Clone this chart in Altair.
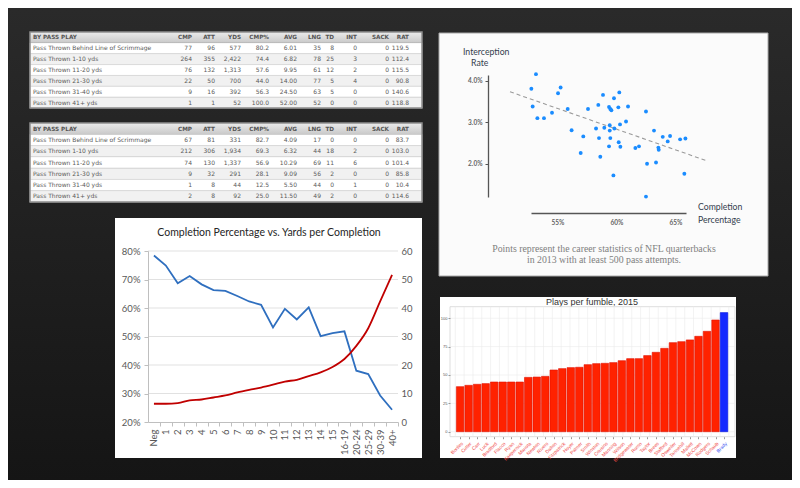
import altair as alt
import pandas as pd

W, H = 784, 472

# ---------------- tables ----------------
table_header = ["BY PASS PLAY", "CMP", "ATT", "YDS", "CMP%", "AVG", "LNG", "TD", "INT", "SACK", "RAT"]
pass_depths = ["Pass Thrown Behind Line of Scrimmage", "Pass Thrown 1-10 yds", "Pass Thrown 11-20 yds",
               "Pass Thrown 21-30 yds", "Pass Thrown 31-40 yds", "Pass Thrown 41+ yds"]

t1_cmp = [77, 264, 76, 22, 9, 1]
t1_att = [96, 355, 132, 50, 16, 1]
t1_yds = [577, 2422, 1313, 700, 392, 52]
t1_pct = [80.2, 74.4, 57.6, 44.0, 56.3, 100.0]
t1_avg = [6.01, 6.82, 9.95, 14.00, 24.50, 52.00]
t1_lng = [35, 78, 61, 77, 63, 52]
t1_td = [8, 25, 12, 5, 5, 0]
t1_int = [0, 3, 2, 4, 0, 0]
t1_sack = [0, 0, 0, 0, 0, 0]
t1_rat = [119.5, 112.4, 115.5, 90.8, 140.6, 118.8]

t2_cmp = [67, 212, 74, 9, 1, 2]
t2_att = [81, 306, 130, 32, 8, 8]
t2_yds = [331, 1934, 1337, 291, 44, 92]
t2_pct = [82.7, 69.3, 56.9, 28.1, 12.5, 25.0]
t2_avg = [4.09, 6.32, 10.29, 9.09, 5.50, 11.50]
t2_lng = [17, 44, 69, 56, 44, 49]
t2_td = [0, 18, 11, 2, 0, 2]
t2_int = [0, 2, 6, 0, 1, 0]
t2_sack = [0, 0, 0, 0, 0, 0]
t2_rat = [83.7, 103.0, 101.4, 85.8, 10.4, 114.6]

# ---------------- line chart ----------------
yard_bins = ["Neg", "1", "2", "3", "4", "5", "6", "7", "8", "9", "10", "11", "12", "13", "14", "15",
             "16-19", "20-24", "25-29", "30-39", "40+"]
completion_pct = [78.4, 74.9, 68.7, 71.2, 68.3, 66.3, 66.0, 64.2, 62.3, 61.1, 53.2, 59.7, 56.0, 60.2,
                  50.1, 51.2, 51.8, 38.0, 36.8, 29.3, 24.3]
yards_per_comp = [6.4, 6.4, 6.6, 7.6, 7.9, 8.6, 9.3, 10.4, 11.3, 12.1, 13.1, 14.2, 14.8, 16.1, 17.4,
                  19.3, 22.1, 26.7, 32.9, 42.3, 51.6]

# ---------------- scatter ----------------
qb_comp_pct = [53.19, 52.80, 55.28, 55.06, 52.91, 53.31, 53.87, 54.55, 55.88, 56.21, 57.20, 56.98, 57.60,
               58.87, 58.47, 58.28, 58.53, 58.64, 58.98, 59.38, 59.49, 59.58, 59.80, 59.44, 59.44, 59.49,
               59.38, 59.83, 59.75, 60.25, 60.17, 60.31, 60.20, 60.34, 60.99, 60.82, 61.61, 61.92, 62.51,
               62.60, 62.51, 63.19, 63.36, 63.56, 63.59, 63.93, 64.35, 64.55, 65.40, 65.85, 65.76]
qb_int_rate = [4.16, 3.81, 3.84, 3.70, 3.38, 3.10, 3.10, 3.23, 3.32, 2.81, 2.66, 2.26, 3.32,
               3.66, 3.42, 2.85, 2.62, 2.17, 2.87, 3.37, 3.32, 3.29, 3.58, 2.93, 2.80, 2.62,
               2.42, 2.85, 1.72, 3.72, 3.36, 2.95, 2.52, 2.41, 3.38, 3.02, 2.38, 2.42, 3.26,
               2.00, 1.21, 2.80, 2.03, 2.39, 2.34, 2.65, 2.54, 2.67, 2.59, 2.61, 1.76]
trend_comp = [50.99, 67.66]
trend_int = [3.736, 2.072]
scatter_caption = ["Points represent the career statistics of NFL quarterbacks",
                   "in 2013 with at least 500 pass attempts."]

# ---------------- bar chart ----------------
qb_names = ["Bortles", "Cutler", "Carr", "Luck", "Bradford", "Flacco", "Ryan", "Kaepernick", "Mariota",
            "Newton", "Rivers", "Dalton", "Fitzpatrick", "Hoyer", "Palmer", "Smith", "Winston", "Cousins",
            "Manning", "Wilson", "Bridgewater", "Romo", "Taylor", "Brees", "Stafford", "Osweiler",
            "Tannehill", "Mallett", "McCown", "Rodgers", "Schaub", "Brady"]
plays_per_fumble = [39.7, 40.9, 41.8, 42.4, 43.8, 43.8, 43.8, 43.8, 47.9, 48.2, 48.8, 54.4, 55.6, 56.5,
                    56.8, 59.1, 60.0, 60.3, 60.9, 62.6, 64.4, 64.4, 67.1, 70.0, 73.5, 78.5, 79.4, 80.9,
                    84.1, 88.5, 98.5, 105.0]
highlight_qb = "Brady"

# =====================================================================
layers = []

one = pd.DataFrame({"k": [0]})


def box(x0, x1, y0, y1, fill, stroke=None, sw=1.0):
    kw = dict(fill=fill)
    if stroke:
        kw.update(stroke=stroke, strokeWidth=sw)
    return alt.Chart(one).mark_rect(**kw).encode(
        x=alt.value(x0), x2=alt.value(x1), y=alt.value(y0), y2=alt.value(y1))


def label(text, x, y, **kw):
    return alt.Chart(pd.DataFrame({"t": [text]})).mark_text(**kw).encode(
        x=alt.value(x), y=alt.value(y), text="t:N")


# page background
bg_grad = alt.Gradient(gradient="linear",
                       stops=[alt.GradientStop(color="#2a2a2a", offset=0),
                              alt.GradientStop(color="#151515", offset=1)],
                       x1=0, x2=0, y1=0, y2=1)
layers.append(alt.Chart(one).mark_rect(color=bg_grad).encode(
    x=alt.value(0), x2=alt.value(W), y=alt.value(0), y2=alt.value(H)))

# ---------------- table builder ----------------
col_domain = list(range(-1, 12))
col_pos = [22, 25, 184, 207, 233, 261, 289, 313, 326, 349, 381, 401, 414]
fmts = ["{:d}", "{:d}", "{:,}", "{:.1f}", "{:.2f}", "{:d}", "{:d}", "{:d}", "{:d}", "{:.1f}"]


def table_layers(cols, y_top, y_bot):
    xs = alt.Scale(domain=col_domain, range=col_pos, nice=False, zero=False)
    ys = alt.Scale(domain=[-0.5, 6.5], range=[y_top, y_bot], nice=False, zero=False)
    out = []
    rows_df = pd.DataFrame({"row": list(range(1, 7))})
    out.append(alt.Chart(rows_df).transform_calculate(
        x0="-1", x1="11", y0="datum.row - 0.5", y1="datum.row + 0.5"
    ).mark_rect(stroke="#dddddd", strokeWidth=0.6).encode(
        x=alt.X("x0:Q", scale=xs, axis=None), x2="x1:Q",
        y=alt.Y("y0:Q", scale=ys, axis=None), y2="y1:Q",
        color=alt.when("datum.row % 2 == 0").then(alt.value("#f1f1f1")).otherwise(alt.value("#ffffff"))))
    head_grad = alt.Gradient(gradient="linear",
                             stops=[alt.GradientStop(color="#ebebeb", offset=0),
                                    alt.GradientStop(color="#c9c9c9", offset=1)],
                             x1=0, x2=0, y1=0, y2=1)
    out.append(alt.Chart(pd.DataFrame({"row": [0]})).transform_calculate(
        x0="-1", x1="11", y0="datum.row - 0.5", y1="datum.row + 0.5"
    ).mark_rect(color=head_grad).encode(
        x=alt.X("x0:Q", scale=xs, axis=None), x2="x1:Q",
        y=alt.Y("y0:Q", scale=ys, axis=None), y2="y1:Q"))
    out.append(alt.Chart(pd.DataFrame({"row": [0]})).transform_calculate(
        x0="-1", x1="11", y0="-0.5", y1="6.5"
    ).mark_rect(fill=None, stroke="#8e8e8e", strokeWidth=1.5).encode(
        x=alt.X("x0:Q", scale=xs, axis=None), x2="x1:Q",
        y=alt.Y("y0:Q", scale=ys, axis=None), y2="y1:Q"))
    head_df = pd.DataFrame({"col": list(range(11)), "row": [0] * 11, "txt": table_header})
    body = []
    for r, name in enumerate(pass_depths):
        body.append({"col": 0, "row": r + 1, "txt": name})
        for c in range(10):
            body.append({"col": c + 1, "row": r + 1, "txt": fmts[c].format(cols[c][r])})
    body_df = pd.DataFrame(body)
    for df, bold in [(head_df, True), (body_df, False)]:
        for cond, align in [("datum.col == 0", "left"), ("datum.col > 0", "right")]:
            out.append(alt.Chart(df).transform_filter(cond).mark_text(
                align=align, baseline="middle", font="DejaVu Sans",
                fontSize=5.7 if bold else 6.0, fontWeight="bold" if bold else "normal",
                color="#555555" if bold else "#5a5a5a").encode(
                x=alt.X("col:Q", scale=xs, axis=None),
                y=alt.Y("row:Q", scale=ys, axis=None), text="txt:N"))
    return out


t1_cols = [t1_cmp, t1_att, t1_yds, t1_pct, t1_avg, t1_lng, t1_td, t1_int, t1_sack, t1_rat]
t2_cols = [t2_cmp, t2_att, t2_yds, t2_pct, t2_avg, t2_lng, t2_td, t2_int, t2_sack, t2_rat]
layers += table_layers(t1_cols, 24, 100)
layers += table_layers(t2_cols, 115, 194)

# ---------------- line chart panel ----------------
layers.append(box(107, 414, 210, 450, "#ffffff"))
layers.append(label("Completion Percentage vs. Yards per Completion", 261, 225, font="Lato",
                    fontSize=10.5, color="#262626", align="center", baseline="middle"))
lx0, lx1, ly_bot, ly_top = 140, 390, 414, 243
band = (lx1 - lx0) / len(yard_bins)
xs_l = alt.Scale(domain=[-0.5, len(yard_bins) - 0.5], range=[lx0, lx1], nice=False, zero=False)
ys_l = alt.Scale(domain=[20, 80], range=[ly_bot, ly_top], nice=False, zero=False)
ys_r = alt.Scale(domain=[0, 60], range=[ly_bot, ly_top], nice=False, zero=False)
grid_df = pd.DataFrame({"lvl": [30, 40, 50, 60, 70, 80]})
layers.append(alt.Chart(grid_df).transform_calculate(a="-0.5", b=str(len(yard_bins) - 0.5)).mark_rule(
    color="#d9d9d9", strokeWidth=0.8).encode(
    x=alt.X("a:Q", scale=xs_l, axis=None), x2="b:Q", y=alt.Y("lvl:Q", scale=ys_l, axis=None)))
line_df = pd.DataFrame({"idx": list(range(len(yard_bins))), "bin": yard_bins,
                        "pct": completion_pct, "ypc": yards_per_comp})
bins_expr = "[" + ",".join("'" + b + "'" for b in yard_bins) + "][datum.value]"
layers.append(alt.Chart(line_df).mark_line(color="#2f6fbf", strokeWidth=1.8).encode(
    x=alt.X("idx:Q", scale=xs_l, axis=alt.Axis(
        orient="bottom", offset=ly_bot - H, values=list(range(len(yard_bins))), labelExpr=bins_expr,
        labelAngle=270, tickOffset=band / 2, labelOffset=-band / 2, tickSize=4, tickColor="#bfbfbf",
        domainColor="#bfbfbf", labelFont="Lato", labelFontSize=9.5, labelColor="#595959",
        labelPadding=3, labelOverlap=False, grid=False, title=None, zindex=1)),
    y=alt.Y("pct:Q", scale=ys_l, axis=alt.Axis(
        orient="left", offset=-lx0, values=[20, 30, 40, 50, 60, 70, 80], labelExpr="datum.value + '%'",
        tickSize=4, tickColor="#bfbfbf", domainColor="#bfbfbf", labelFont="Lato", labelFontSize=9.5,
        labelColor="#595959", labelPadding=4, grid=False, title=None, zindex=1))))
layers.append(alt.Chart(line_df).mark_line(color="#c00000", strokeWidth=1.8, interpolate="monotone").encode(
    x=alt.X("idx:Q", scale=xs_l, axis=None),
    y=alt.Y("ypc:Q", scale=ys_r, axis=alt.Axis(
        orient="right", offset=lx1 - W, values=[0, 10, 20, 30, 40, 50, 60], domain=False, ticks=False,
        labelFont="Lato", labelFontSize=9.5, labelColor="#595959", labelPadding=3, grid=False,
        title=None, zindex=1))))

# ---------------- scatter panel ----------------
layers.append(box(431, 760, 25, 268, "#fbfbfb", "#a8a8a8", 1))
xs_s = alt.Scale(domain=[52.77, 65.9], range=[523, 678], nice=False, zero=False)
ys_s = alt.Scale(domain=[1.2, 4.14], range=[189, 67], nice=False, zero=False)
sc_df = pd.DataFrame({"cp": qb_comp_pct, "ir": qb_int_rate})
tr_df = pd.DataFrame({"cp": trend_comp, "ir": trend_int})
layers.append(alt.Chart(tr_df).mark_line(color="#9a9a9a", strokeWidth=1.1, strokeDash=[4, 3]).encode(
    x=alt.X("cp:Q", scale=xs_s, axis=None), y=alt.Y("ir:Q", scale=ys_s, axis=None)))
layers.append(alt.Chart(sc_df).mark_circle(size=15, color="#1a8cff", opacity=1).encode(
    x=alt.X("cp:Q", scale=xs_s, axis=alt.Axis(
        orient="bottom", offset=205 - H, values=[55, 60, 65], labelExpr="datum.value + '%'",
        ticks=False, domainColor="#555555", domainWidth=1.3, labelFont="Lato", labelFontSize=6.5,
        labelFontWeight="bold", labelColor="#666666", labelPadding=6, grid=False, title=None, zindex=1)),
    y=alt.Y("ir:Q", scale=ys_s, axis=alt.Axis(
        orient="left", offset=-480, values=[2, 3, 4], labelExpr="format(datum.value, '.1f') + '%'",
        tickSize=3, tickColor="#555555", domainColor="#555555", domainWidth=1.3, labelFont="Lato",
        labelFontSize=6.5, labelFontWeight="bold", labelColor="#666666", labelPadding=3, grid=False,
        title=None, zindex=1))))
lab_kw = dict(font="Lato", fontSize=8.7, color="#34404e", align="left", baseline="middle")
layers.append(label("Interception", 455, 44, **lab_kw))
layers.append(label("Rate", 463, 55, **lab_kw))
layers.append(label("Completion", 690, 199, **lab_kw))
layers.append(label("Percentage", 690, 212, **lab_kw))
cap_kw = dict(font="Liberation Serif", fontSize=9.8, color="#808080", align="center", baseline="middle")
layers.append(label(scatter_caption[0], 596, 241, **cap_kw))
layers.append(label(scatter_caption[1], 596, 252, **cap_kw))

# ---------------- bar panel ----------------
layers.append(box(432, 728, 289, 450, "#ffffff"))
layers.append(label("Plays per fumble, 2015", 584, 294, font="Liberation Sans", fontSize=9.0,
                    color="#333333", align="center", baseline="middle"))
bx0, bx1, by_bot, by_top = 442, 727, 428.7, 298.7
n_b = len(qb_names)
xs_b = alt.Scale(domain=[-0.6, n_b - 0.3], range=[bx0, bx1], nice=False, zero=False)
ys_b = alt.Scale(domain=[-4.4, 110.2], range=[by_bot, by_top], nice=False, zero=False)
layers.append(box(bx0, bx1, by_top, by_bot, "#ffffff", "#d4d4d4", 0.8))
gy_df = pd.DataFrame({"lvl": [0, 25, 50, 75, 100]})
layers.append(alt.Chart(gy_df).transform_calculate(a="-0.6", b=str(n_b - 0.3)).mark_rule(
    color="#ebebeb", strokeWidth=0.6).encode(
    x=alt.X("a:Q", scale=xs_b, axis=None), x2="b:Q", y=alt.Y("lvl:Q", scale=ys_b, axis=None)))
gx_df = pd.DataFrame({"idx": list(range(n_b))})
layers.append(alt.Chart(gx_df).transform_calculate(a="-4.4", b="110.2").mark_rule(
    color="#ebebeb", strokeWidth=0.6).encode(
    x=alt.X("idx:Q", scale=xs_b, axis=None), y=alt.Y("a:Q", scale=ys_b, axis=None), y2="b:Q"))
bar_df = pd.DataFrame({"idx": list(range(n_b)), "name": qb_names, "v": plays_per_fumble})
names_expr = "[" + ",".join("'" + n + "'" for n in qb_names) + "][datum.value]"
hi_idx = qb_names.index(highlight_qb)
layers.append(alt.Chart(bar_df).mark_bar(size=7.5, strokeWidth=0.6).encode(
    x=alt.X("idx:Q", scale=xs_b, axis=alt.Axis(
        orient="bottom", offset=by_bot - H, values=list(range(n_b)), labelExpr=names_expr,
        labelAngle=315, tickSize=2, tickColor="#999999", domain=False, labelFont="Liberation Sans",
        labelFontSize=4.8, labelPadding=2, labelOverlap=False,
        labelColor={"condition": {"test": f"datum.value == {hi_idx}", "value": "#3a4df0"},
                    "value": "#f04848"},
        grid=False, title=None, zindex=1)),
    y=alt.Y("v:Q", scale=ys_b, axis=alt.Axis(
        orient="left", offset=-bx0, values=[0, 25, 50, 75, 100], tickSize=2, tickColor="#999999",
        domain=False, labelFont="Liberation Sans", labelFontSize=4, labelColor="#555555",
        labelPadding=1, grid=False, title=None, zindex=1)),
    y2=alt.datum(0),
    color=alt.when(f"datum.name == '{highlight_qb}'").then(alt.value("#1428ff")).otherwise(alt.value("#ff2200")),
    stroke=alt.when(f"datum.name == '{highlight_qb}'").then(alt.value("#0010dd")).otherwise(alt.value("#e01000")),
))

chart = alt.layer(*layers).resolve_scale(
    x="independent", y="independent"
).resolve_axis(
    x="independent", y="independent"
).properties(
    width=W, height=H, padding=0, background="#1c1c1c",
    autosize=alt.AutoSizeParams(type="none")
).configure_view(stroke=None)

chart.save("out.html", embed_options={"renderer": "svg", "actions": False})
